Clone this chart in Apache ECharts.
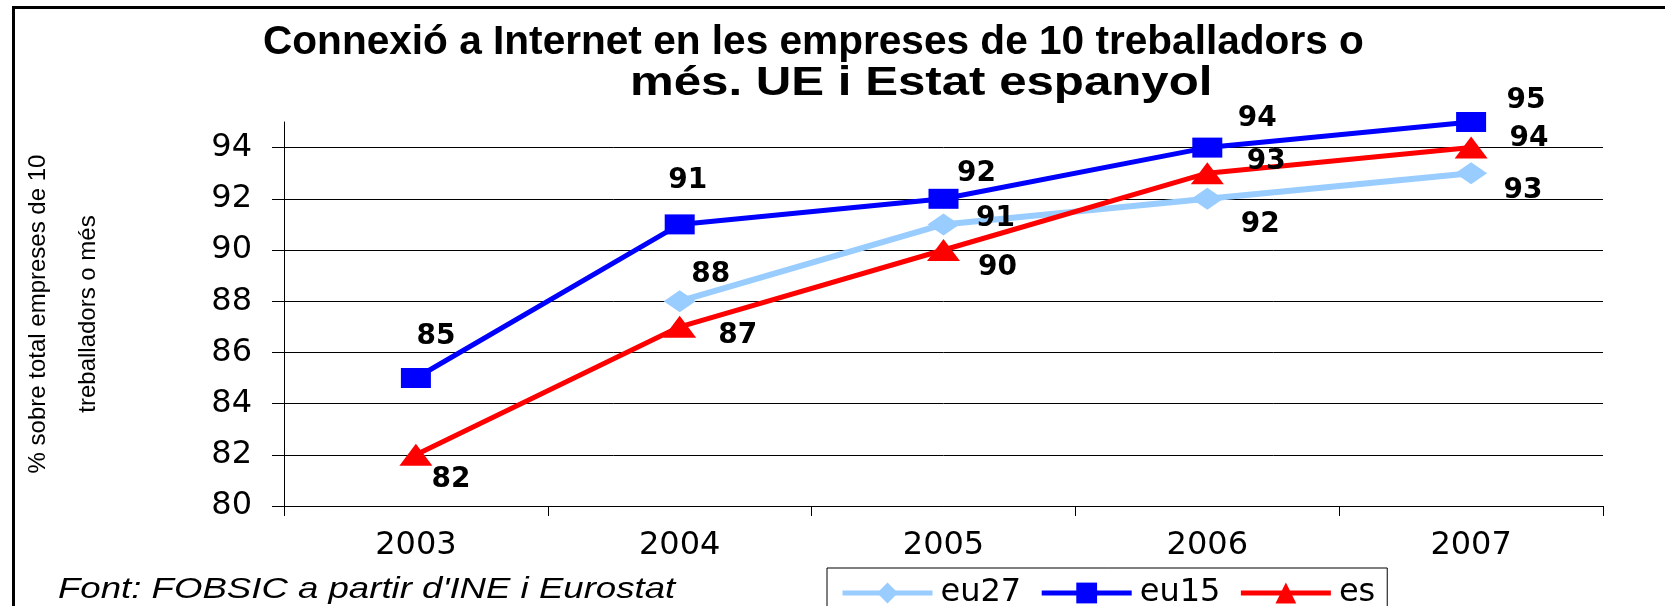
<!DOCTYPE html>
<html>
<head>
<meta charset="utf-8">
<script src="https://cdn.jsdelivr.net/npm/echarts@6/dist/echarts.min.js"></script>
<style>
  html, body { margin: 0; padding: 0; background: #fff; }
  #wrap { position: relative; width: 1665px; height: 606px; overflow: hidden; }
  #chart { position: absolute; left: 0; top: 0; width: 1665px; height: 606px; }
  #frame { position: absolute; left: 12px; top: 6px; width: 1660px; height: 610px;
           border-top: 3px solid #000; border-left: 3px solid #000; pointer-events: none; }
</style>
</head>
<body>
<div id="wrap"><div id="chart"></div><div id="frame"></div></div>
<script>
// ---- data ----
const categories = ['2003', '2004', '2005', '2006', '2007'];
const eu27 = [null, 88, 91, 92, 93];
const eu15 = [85, 91, 92, 94, 95];
const es = [82, 87, 90, 93, 94];
const yTicks = [80, 82, 84, 86, 88, 90, 92, 94];
const titleLine1 = 'Connexió a Internet en les empreses de 10 treballadors o';
const titleLine2 = 'més. UE i Estat espanyol';
const yName = '% sobre total empreses de 10\ntreballadors o més';
const sourceNote = "Font: FOBSIC a partir d'INE i Eurostat";

// ---- label nudges (style only, relative to each marker) ----
const nudgeEu27 = [[0, 0], [31, -29], [52, -9], [53, 23], [52, 15]];
const nudgeEu15 = [[20, -44], [8, -47], [33, -28], [50, -32], [55, -24]];
const nudgeEs = [[35, 22], [58, 6], [54, 15], [59, -14], [58, -12]];
const nudgeShiftY = 3;

const labelFont = { fontFamily: 'DejaVu Sans', fontWeight: 'bold', fontSize: 28, color: '#000' };

function build(values, nudges) {
  return values.map((v, i) => v == null ? '-' : ({
    value: v,
    label: { offset: [nudges[i][0], nudges[i][1] + nudgeShiftY] }
  }));
}

const chart = echarts.init(document.getElementById('chart'), null, { renderer: 'canvas' });
chart.setOption({
  backgroundColor: '#fff',
  animation: false,
  graphic: [
    { type: 'text', x: 263, y: 43, scaleX: 0.99, z: 10,
      style: { text: titleLine1, fontFamily: 'Liberation Sans', fontWeight: 'bold', fontSize: 41,
               fill: '#000', align: 'left', verticalAlign: 'middle' } },
    { type: 'text', x: 630, y: 84, scaleX: 1.2, z: 10,
      style: { text: titleLine2, fontFamily: 'Liberation Sans', fontWeight: 'bold', fontSize: 41,
               fill: '#000', align: 'left', verticalAlign: 'middle' } },
    { type: 'text', x: 58, y: 590, scaleX: 1.22, z: 10,
      style: { text: sourceNote, fontFamily: 'Liberation Sans', fontStyle: 'italic', fontSize: 30,
               fill: '#000', align: 'left', verticalAlign: 'middle' } }
  ],
  legend: {
    left: 827, top: 568,
    orient: 'horizontal',
    borderColor: '#000', borderWidth: 1,
    padding: [9, 12, 12, 13],
    itemWidth: 90, itemHeight: 26, itemGap: 18,
    lineStyle: { width: 5 },
    textStyle: { fontFamily: 'DejaVu Sans', fontSize: 32, color: '#000', padding: [0, 0, 0, 3] },
    data: ['eu27', 'eu15', 'es']
  },
  grid: { left: 284, right: 62, top: 122, bottom: 100, containLabel: false },
  xAxis: {
    type: 'category',
    data: categories,
    boundaryGap: true,
    axisLine: { show: true, lineStyle: { color: '#000', width: 1 } },
    axisTick: { show: true, length: 10, lineStyle: { color: '#000' } },
    axisLabel: { margin: 24, fontFamily: 'DejaVu Sans', fontSize: 32, color: '#000' },
    splitLine: { show: false }
  },
  yAxis: {
    type: 'value',
    min: 80, max: 95, interval: 2,
    name: yName,
    nameLocation: 'middle',
    nameGap: 171,
    nameTextStyle: { fontFamily: 'Liberation Sans', fontSize: 24, lineHeight: 50, color: '#000', align: 'center' },
    axisLine: { show: true, lineStyle: { color: '#000', width: 1 } },
    axisTick: { show: true, length: 12, customValues: yTicks, lineStyle: { color: '#000' } },
    axisLabel: { margin: 32, customValues: yTicks, fontFamily: 'DejaVu Sans', fontSize: 32, color: '#000' },
    splitLine: { show: true, lineStyle: { color: '#000', width: 1 } }
  },
  series: [
    {
      name: 'eu27', type: 'line', data: build(eu27, nudgeEu27),
      symbol: 'diamond', symbolSize: [32, 22],
      itemStyle: { color: '#99CCFF' },
      lineStyle: { color: '#99CCFF', width: 6 },
      label: Object.assign({ show: true, position: 'inside' }, labelFont),
      connectNulls: false, z: 2
    },
    {
      name: 'eu15', type: 'line', data: build(eu15, nudgeEu15),
      symbol: 'rect', symbolSize: [30, 20],
      itemStyle: { color: '#0000FF' },
      lineStyle: { color: '#0000FF', width: 5 },
      label: Object.assign({ show: true, position: 'inside' }, labelFont),
      z: 3
    },
    {
      name: 'es', type: 'line', data: build(es, nudgeEs),
      symbol: 'triangle', symbolSize: [33, 22],
      itemStyle: { color: '#FF0000' },
      lineStyle: { color: '#FF0000', width: 5 },
      label: Object.assign({ show: true, position: 'inside' }, labelFont),
      z: 4
    }
  ]
});
</script>
</body>
</html>
